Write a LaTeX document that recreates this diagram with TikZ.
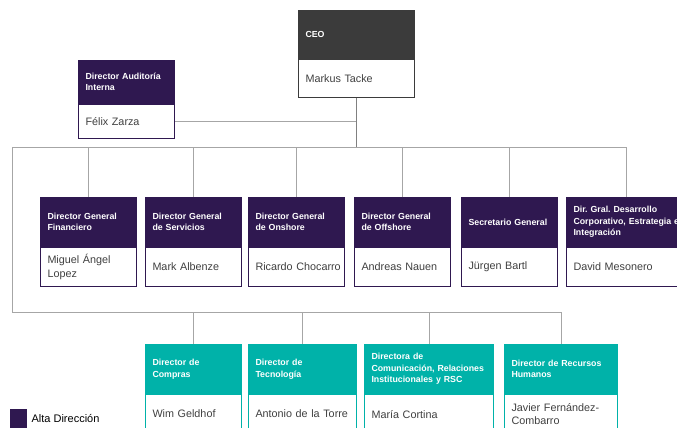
\documentclass[tikz,border=0pt]{standalone}
\usepackage{fontspec}
\setmainfont{Liberation Sans}
\usetikzlibrary{positioning}
\frenchspacing

\definecolor{alta}{HTML}{2F1850}
\definecolor{verde}{HTML}{00B2A9}
\definecolor{ceogris}{HTML}{3B3B3B}
\definecolor{lineagris}{HTML}{A6A6A6}
\definecolor{nombregris}{HTML}{404040}

\tikzset{
  wd/.style={text width=#1pt},
  head/.style={rectangle, fill=#1, draw=#1, line width=1pt, text=white,
    align=left, inner xsep=7pt, inner ysep=0pt, anchor=north west,
    font=\bfseries\fontsize{8.8}{11.5}\selectfont},
  person/.style={rectangle, fill=white, draw=#1, line width=1.2pt,
    text=nombregris, align=left, inner xsep=7pt, inner ysep=0pt,
    font=\fontsize{10.8}{13.5}\selectfont},
  conn/.style={draw=lineagris, line width=1pt},
}

\begin{document}
\begin{tikzpicture}[x=1pt, y=-1pt]
  \useasboundingbox (0,0) rectangle (677,428);

  % CEO
  \node[head=ceogris, wd=102, minimum height=48] (ceo-h) at (298,10) {CEO};
  \node[person=ceogris, wd=102, minimum height=38, below=0pt of ceo-h] (ceo-n) {Markus Tacke};

  % auditoria
  \node[head=alta, wd=82, minimum height=43] (aud-h) at (78,60) {Director Auditoría\\Interna};
  \node[person=alta, wd=82, minimum height=34, below=0pt of aud-h] (aud-n) {Félix Zarza};

  % alta direccion
  \node[head=alta, wd=82, minimum height=49] (fin-h) at (40,197) {Director General\\Financiero};
  \node[person=alta, wd=82, minimum height=39, below=0pt of fin-h] (fin-n) {\mbox{Miguel Ángel}\\Lopez};
  \node[head=alta, wd=82, minimum height=49] (ser-h) at (145,197) {Director General\\de Servicios};
  \node[person=alta, wd=82, minimum height=39, below=0pt of ser-h] (ser-n) {\mbox{Mark Albenze}};
  \node[head=alta, wd=82, minimum height=49] (ons-h) at (248,197) {Director General\\de Onshore};
  \node[person=alta, wd=82, minimum height=39, below=0pt of ons-h] (ons-n) {\mbox{Ricardo Chocarro}};
  \node[head=alta, wd=82, minimum height=49] (off-h) at (354,197) {Director General\\de Offshore};
  \node[person=alta, wd=82, minimum height=39, below=0pt of off-h] (off-n) {\mbox{Andreas Nauen}};
  \node[head=alta, wd=82, minimum height=49] (sec-h) at (461,197) {\mbox{Secretario General}};
  \node[person=alta, wd=82, minimum height=39, below=0pt of sec-h] (sec-n) {\mbox{Jürgen Bartl}};
  \node[head=alta, wd=105, minimum height=49] (dg-h) at (566,197) {\mbox{Dir. Gral. Desarrollo}\\\mbox{Corporativo, Estrategia e}\\Integración};
  \node[person=alta, wd=105, minimum height=39, below=0pt of dg-h] (dg-n) {\mbox{David Mesonero}};

  % segundo nivel
  \node[head=verde, wd=82, minimum height=49] (com-h) at (145,344) {Director de\\Compras};
  \node[person=verde, wd=82, minimum height=39, below=0pt of com-h] (com-n) {\mbox{Wim Geldhof}};
  \node[head=verde, wd=94, minimum height=49] (tec-h) at (248,344) {Director de\\Tecnología};
  \node[person=verde, wd=94, minimum height=39, below=0pt of tec-h] (tec-n) {\mbox{Antonio de la Torre}};
  \node[head=verde, wd=115, minimum height=49] (rc-h) at (364,344) {Directora de\\\mbox{Comunicación, Relaciones}\\\mbox{Institucionales y RSC}};
  \node[person=verde, wd=115, minimum height=39, below=0pt of rc-h] (rc-n) {\mbox{María Cortina}};
  \node[head=verde, wd=99, minimum height=49] (rh-h) at (504,344) {\mbox{Director de Recursos}\\Humanos};
  \node[person=verde, wd=99, minimum height=39, below=0pt of rh-h] (rh-n) {\mbox{Javier Fernández-}\\Combarro};

  % lineas
  \coordinate (bus1) at (12,147);
  \coordinate (bus2) at (12,312);
  \draw[conn] (aud-n.east) -- (aud-n.east -| ceo-n.south);
  \draw[conn] (bus1) -- (bus1 -| dg-h.north);
  \draw[conn] (bus1) -- (bus2) -- (bus2 -| rh-h.north);
  \foreach \n in {fin,ser,ons,off,sec,dg}
    \draw[conn] (\n-h.north) -- (\n-h.north |- bus1);
  \foreach \n in {com,tec,rc,rh}
    \draw[conn] (\n-h.north) -- (\n-h.north |- bus2);
  \draw[conn, draw=gray, line width=1.4pt] (ceo-n.south) -- (ceo-n.south |- bus1);

  % leyenda
  \node[fill=alta, anchor=north west, minimum width=17, minimum height=19, inner sep=0pt] (ley-box) at (10,409) {};
  \node[right=4pt of ley-box, inner sep=0pt, text=black, font=\fontsize{11}{13}\selectfont] (ley-txt) {Alta Dirección};
\end{tikzpicture}
\end{document}
